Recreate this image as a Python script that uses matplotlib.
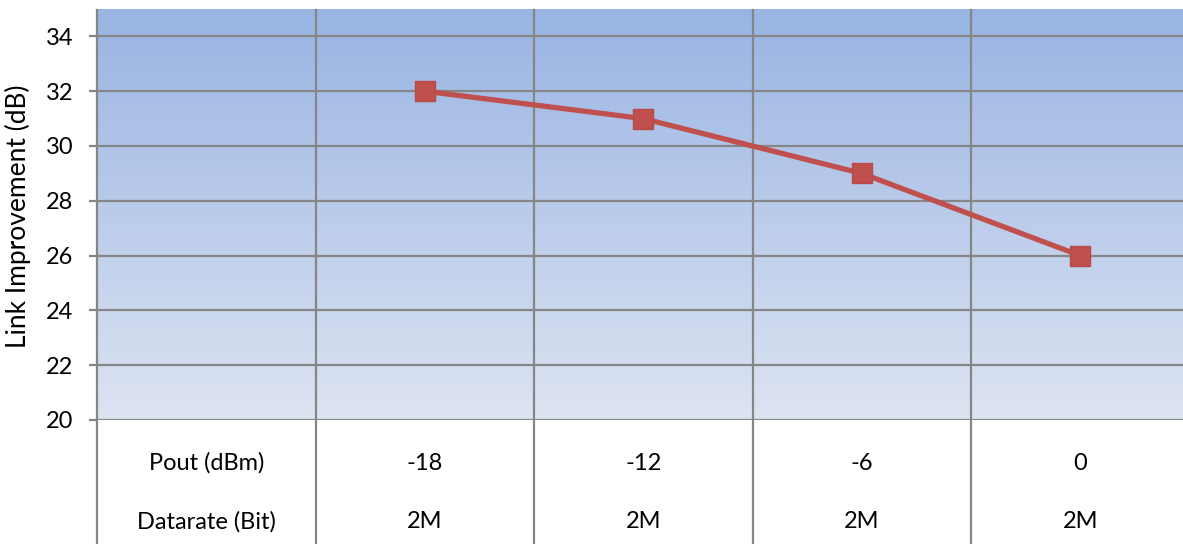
import numpy as np
import matplotlib
matplotlib.use("Agg")
import matplotlib.pyplot as plt
from matplotlib.colors import LinearSegmentedColormap
from matplotlib import transforms

plt.rcParams['font.family'] = ['Lato', 'DejaVu Sans']

# Data
pout_labels = ["-18", "-12", "-6", "0"]
datarate_labels = ["2M", "2M", "2M", "2M"]
link_improvement = [32, 31, 29, 26]
row_headers = ["Pout (dBm)", "Datarate (Bit)"]
y_ticks = [20, 22, 24, 26, 28, 30, 32, 34]

W, H = 1183, 544
fig = plt.figure(figsize=(W / 100, H / 100), dpi=100)
fig.patch.set_facecolor("white")

left_px, top_px, bottom_px, col_w = 97, 9, 420, 218.5
ncols = len(pout_labels) + 1
ax = fig.add_axes([left_px / W, (H - bottom_px) / H,
                   ncols * col_w / W, (bottom_px - top_px) / H])
ax.set_xlim(0, ncols)
ax.set_ylim(20, 35)

# Vertical gradient background
cmap = LinearSegmentedColormap.from_list("bg", ["#dde4f2", "#99b4e3"])
grad = np.linspace(0, 1, 256).reshape(-1, 1)
ax.imshow(grad, cmap=cmap, origin="lower", aspect="auto",
          extent=[0, 1, 0, 1], transform=ax.transAxes, zorder=0)

grid_c = "#868686"
for y in y_ticks:
    ax.axhline(y, color=grid_c, lw=1.6, zorder=1)

# Column dividers run through the plot area and the data table below
table_depth = (H - bottom_px) / (bottom_px - top_px)
blend = transforms.blended_transform_factory(ax.transData, ax.transAxes)
for xv in range(0, ncols + 1):
    ax.plot([xv, xv], [1 - 1.0 / (bottom_px - top_px), -table_depth],
            color=grid_c, lw=1.6, transform=blend, clip_on=False, zorder=2)

xs = np.arange(len(link_improvement)) + 1.5
ax.plot(xs, link_improvement, color="#c0504d", lw=3.8, marker="s",
        markersize=14, markerfacecolor="#c0504d", markeredgecolor="#b84a47",
        zorder=5)

for s in ax.spines.values():
    s.set_visible(False)
ax.set_xticks([])
ax.set_yticks(y_ticks)
ax.set_yticklabels([str(v) for v in y_ticks], fontsize=17)
ax.tick_params(axis="y", direction="out", length=6, width=1.6,
               color=grid_c, pad=11)

# Data table rows
fs = 17
row_y = [(bottom_px - 463) / (bottom_px - top_px),
         (bottom_px - 522) / (bottom_px - top_px)]
ax.text(0.5, row_y[0], row_headers[0], transform=blend, ha="center",
        va="center", fontsize=fs)
ax.text(0.5, row_y[1], row_headers[1], transform=blend, ha="center",
        va="center", fontsize=fs)
for i, (p, d) in enumerate(zip(pout_labels, datarate_labels)):
    ax.text(i + 1.5, row_y[0], p, transform=blend, ha="center",
            va="center", fontsize=fs)
    ax.text(i + 1.5, row_y[1], d, transform=blend, ha="center",
            va="center", fontsize=fs)

fig.text(18 / W, 1 - 216 / H, "Link Improvement (dB)", rotation=90,
         ha="center", va="center", fontsize=19)

fig.savefig("out.png", dpi=100)
